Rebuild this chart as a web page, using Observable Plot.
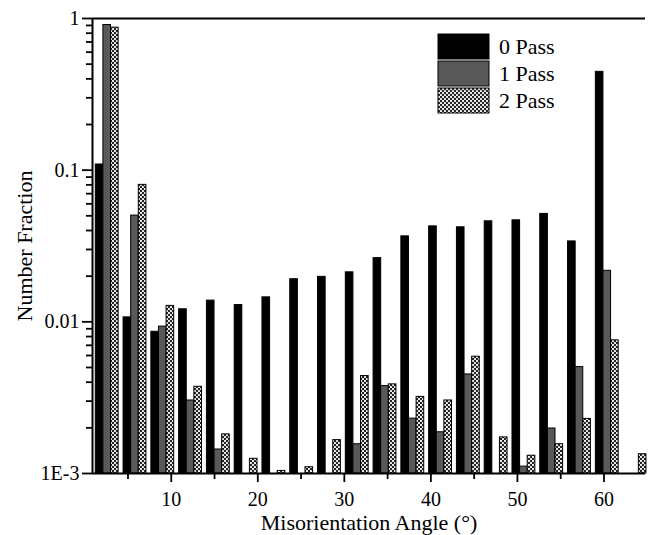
<!DOCTYPE html>
<html>
<head>
<meta charset="utf-8">
<script src="https://cdn.jsdelivr.net/npm/d3@7"></script>
<script src="https://cdn.jsdelivr.net/npm/@observablehq/plot@0.6"></script>
<style>
  body { margin: 0; background: #fff; color: #000; }
  #chart { width: 649px; height: 535px; }
  #chart svg, #chart svg text { font-family: "Liberation Serif", "Tinos", "Times New Roman", "DejaVu Serif", serif !important; }
</style>
</head>
<body>
<div id="chart"></div>
<script>
// Misorientation angle distribution (bin centres, degrees)
const angles = [2.60, 5.81, 9.02, 12.23, 15.44, 18.65, 21.86, 25.07, 28.28, 31.49,
                34.70, 37.91, 41.12, 44.33, 47.54, 50.75, 53.96, 57.17, 60.38, 63.59];

// Number fraction per bin for each processing state (null = below 1E-3)
const pass0 = [0.109, 0.0107, 0.0086, 0.0121, 0.0138, 0.0129, 0.0145, 0.0191, 0.0198, 0.0212,
               0.0263, 0.0366, 0.0426, 0.0420, 0.0460, 0.0467, 0.0515, 0.0339, 0.445, null];
const pass1 = [0.906, 0.0502, 0.0093, 0.00303, 0.00144, null, null, null, null, 0.00156,
               0.00377, 0.0023, 0.00187, 0.0045, null, 0.00111, 0.00198, 0.00503, 0.0217, null];
const pass2 = [0.87, 0.080, 0.01274, 0.00373, 0.00181, 0.00125, 0.00104, 0.0011, 0.00166, 0.00439,
               0.00387, 0.0032, 0.00303, 0.00589, 0.00173, 0.00131, 0.00156, 0.00229, 0.00755, 0.00134];

const seriesNames = ["0 Pass", "1 Pass", "2 Pass"];
const seriesFills = ["#000000", "#595959", "url(#checker)"];

const xTicks = [10, 20, 30, 40, 50, 60];
const xMinorTicks = [5, 15, 25, 35, 45, 55];
const yTicks = [0.001, 0.01, 0.1, 1];
const yTickLabels = ["1E-3", "0.01", "0.1", "1"];
const yMinorTicks = [2, 3, 4, 5, 6, 7, 8, 9].flatMap(m => [m * 1e-3, m * 1e-2, m * 1e-1]);

const xDomain = [0.9, 64.8];
const yDomain = [0.001, 1];
const barWidth = 0.88;   // width of one bar within a group, in degrees

const rows = [];
[pass0, pass1, pass2].forEach((values, s) => {
  values.forEach((v, i) => {
    if (v == null) return;
    rows.push({
      series: seriesNames[s],
      x1: angles[i] + (s - 1.5) * barWidth,
      x2: angles[i] + (s - 0.5) * barWidth,
      value: v
    });
  });
});

const yLabelOf = new Map(yTicks.map((t, i) => [t, yTickLabels[i]]));
const serif = "Liberation Serif, Tinos, Times New Roman, DejaVu Serif, serif";

const chart = Plot.plot({
  width: 649,
  height: 535,
  marginLeft: 92,
  marginRight: 4,
  marginTop: 18,
  marginBottom: 62,
  style: { fontFamily: serif, fontSize: "20px", color: "#000", background: "#fff", overflow: "visible" },
  x: { type: "linear", domain: xDomain },
  y: { type: "log", domain: yDomain },
  color: { type: "ordinal", domain: seriesNames, range: seriesFills },
  marks: [
    Plot.rect(rows, {
      x1: "x1", x2: "x2",
      y1: () => yDomain[0], y2: "value",
      fill: "series",
      stroke: "#000",
      strokeWidth: 1
    }),
    // minor ticks
    Plot.axisY({ ticks: yMinorTicks, tickSize: 6, tickFormat: () => "", label: null, strokeWidth: 1.8 }),
    Plot.axisX({ ticks: xMinorTicks, tickSize: 6, tickFormat: () => "", label: null, strokeWidth: 1.8 }),
    // major ticks and labels
    Plot.axisY({
      ticks: yTicks, tickSize: 10, tickPadding: 3, strokeWidth: 1.8,
      tickFormat: d => yLabelOf.get(d),
      label: "Number Fraction", labelAnchor: "center", labelOffset: 76, labelArrow: "none"
    }),
    Plot.axisX({
      ticks: xTicks, tickSize: 9, tickPadding: 9, strokeWidth: 1.8,
      tickFormat: d => String(d),
      label: "Misorientation Angle (°)", labelAnchor: "center", labelOffset: 56, labelArrow: "none"
    }),
    // axis lines and top frame
    Plot.ruleX([xDomain[0]], { strokeWidth: 2 }),
    Plot.ruleY([yDomain[0]], { strokeWidth: 2 }),
    Plot.ruleY([yDomain[1]], { strokeWidth: 2 })
  ]
});

const svg = d3.select(chart).attr("font-family", serif).style("font-family", serif);
svg.selectAll("g").attr("font-family", serif);

// checkered fill used by the "2 Pass" bars
const pat = svg.insert("defs", ":first-child")
  .append("pattern")
  .attr("id", "checker")
  .attr("patternUnits", "userSpaceOnUse")
  .attr("width", 4).attr("height", 4);
pat.append("rect").attr("width", 4).attr("height", 4).attr("fill", "#222");
pat.append("circle").attr("cx", 1).attr("cy", 1).attr("r", 1.1).attr("fill", "#fff");
pat.append("circle").attr("cx", 3).attr("cy", 3).attr("r", 1.1).attr("fill", "#fff");

// axis title sizes
svg.selectAll('g[aria-label="x-axis label"], g[aria-label="y-axis label"]')
  .attr("font-size", "22px");

// legend in the upper right of the frame
const color = chart.scale("color");
const legend = svg.append("g").attr("aria-label", "legend").attr("text-anchor", "start");
seriesNames.forEach((name, i) => {
  const g = legend.append("g").attr("transform", `translate(438,${34 + i * 27})`);
  g.append("rect")
    .attr("width", 51).attr("height", 25)
    .attr("fill", color.apply(name))
    .attr("stroke", "#000").attr("stroke-width", 1);
  g.append("text")
    .attr("x", 61).attr("y", 12.5).attr("dy", "0.35em")
    .attr("text-anchor", "start")
    .attr("font-family", serif)
    .attr("font-size", "22px").attr("fill", "#000")
    .text(name);
});

document.getElementById("chart").appendChild(chart);
</script>
</body>
</html>
